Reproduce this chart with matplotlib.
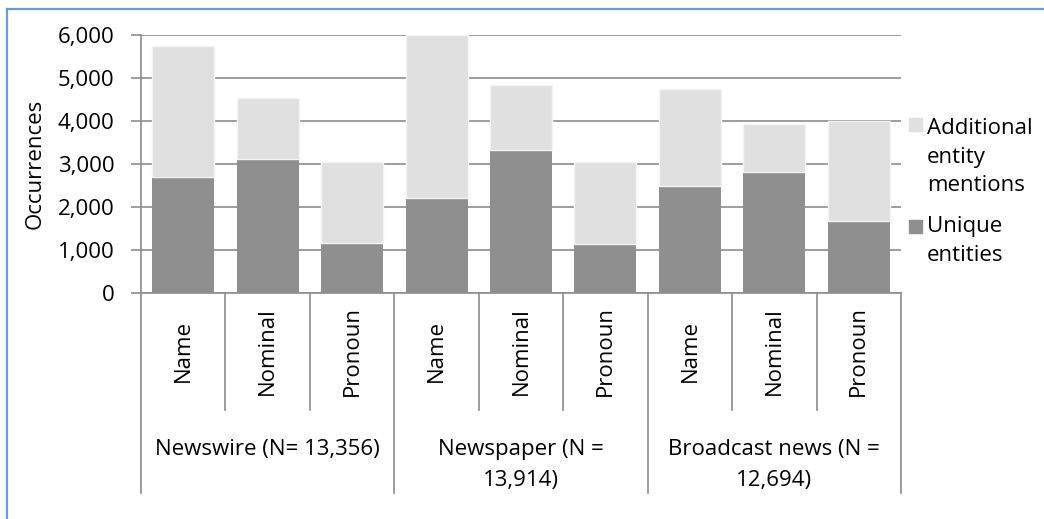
import numpy as np
import matplotlib
matplotlib.use("Agg")
import matplotlib.pyplot as plt
from matplotlib.lines import Line2D
from matplotlib.patches import Rectangle

plt.rcParams['font.family'] = ['Open Sans', 'DejaVu Sans']

# data
subcats = ["Name", "Nominal", "Pronoun"] * 3
groups = ["Newswire (N= 13,356)", "Newspaper (N =\n13,914)", "Broadcast news (N =\n12,694)"]
unique = [2700, 3120, 1160, 2200, 3330, 1130, 2490, 2810, 1670]
additional = [3040, 1420, 1880, 3800, 1510, 1920, 2260, 1120, 2330]
yticks = [0, 1000, 2000, 3000, 4000, 5000, 6000]

W, H = 1044, 519
FS = 16
fig = plt.figure(figsize=(W / 100, H / 100), dpi=100)
ax = fig.add_axes([141 / W, (H - 293) / H, 760 / W, 258 / H])

dark = "#8f8f8f"
light = "#e0e0e0"
grid = "#8c8c8c"
x = np.arange(len(unique))
ax.bar(x, unique, width=0.735, color=dark, zorder=3)
ax.bar(x, additional, bottom=unique, width=0.735, color=light,
       edgecolor="#f4f4f4", linewidth=1, zorder=3)

ax.set_xlim(-0.5, len(unique) - 0.5)
ax.set_ylim(0, 6000)
ax.set_yticks(yticks)
ax.set_yticklabels([f"{v:,}" for v in yticks], fontsize=FS)
ax.yaxis.grid(True, color=grid, linewidth=1.2, zorder=0)
ax.set_xticks([])
for s in ["top", "right"]:
    ax.spines[s].set_visible(False)
for s in ["left", "bottom"]:
    ax.spines[s].set_color(grid)
    ax.spines[s].set_linewidth(1.2)
ax.tick_params(axis="y", length=7, width=1.2, color=grid, pad=12)
ax.set_ylabel("Occurrences", fontsize=FS, labelpad=9)

# category axis below the plot
trans = ax.get_xaxis_transform()
for i in range(len(unique) + 1):
    bottom = -0.775 if i % 3 == 0 else -0.455
    ax.add_line(Line2D([i - 0.5, i - 0.5], [0, bottom], transform=trans,
                       color=grid, linewidth=1.2, clip_on=False))
for i, lab in enumerate(subcats):
    ax.text(i, -0.225, lab, transform=trans, rotation=90, ha="center",
            va="center", fontsize=FS)
for g, lab in enumerate(groups):
    ax.text(3 * g + 1, -0.565, lab, transform=trans, ha="center", va="top",
            fontsize=FS, linespacing=1.65)

# legend drawn by hand
fig.patches.append(Rectangle((909 / W, 1 - 131 / H), 13 / W, 13 / H,
                             transform=fig.transFigure, color=light))
fig.patches.append(Rectangle((909 / W, 1 - 233 / H), 13 / W, 13 / H,
                             transform=fig.transFigure, color=dark))
fig.text(927 / W, 1 - 157 / H, "Additional\nentity\nmentions", va="center",
         ha="left", fontsize=FS, linespacing=1.45)
fig.text(927 / W, 1 - 241 / H, "Unique\nentities", va="center", ha="left",
         fontsize=FS, linespacing=1.45)

# chart frame (only top and left visible)
fig.add_artist(Line2D([7 / W, 1], [1 - 9 / H, 1 - 9 / H], color="#6b9bd2",
                      linewidth=1.6))
fig.add_artist(Line2D([7 / W, 7 / W], [0, 1 - 9 / H], color="#6b9bd2",
                      linewidth=1.6))

fig.savefig("out.png", dpi=100, facecolor="white")
